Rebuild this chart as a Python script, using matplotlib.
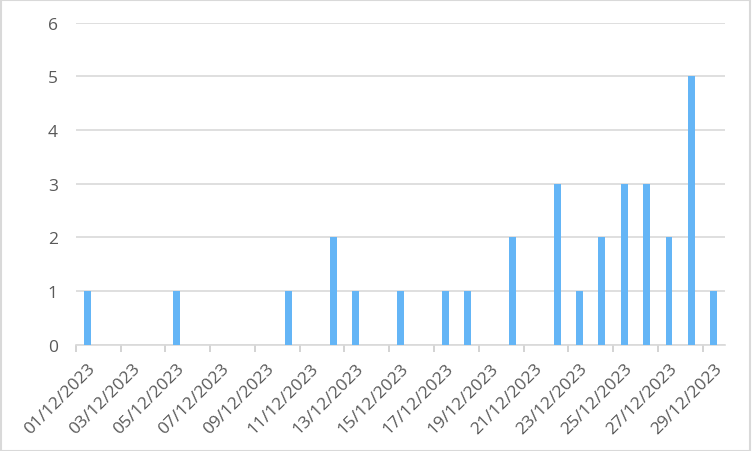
import matplotlib.pyplot as plt
import numpy as np
from matplotlib.patches import Rectangle
from matplotlib.transforms import ScaledTranslation

# daily counts, 01/12/2023 .. 29/12/2023
days = [f'{d:02d}/12/2023' for d in range(1, 30)]
counts = [1, 0, 0, 0, 1, 0, 0, 0, 0, 1,
          0, 2, 1, 0, 1, 0, 1, 1, 0, 2,
          0, 3, 1, 2, 3, 3, 2, 5, 1]

grid_col = '#d9d9d9'
text_col = '#595959'
plt.rcParams['font.family'] = ['Open Sans', 'DejaVu Sans']

fig = plt.figure(figsize=(7.52, 4.52), dpi=100)
ax = fig.add_axes([0.101, 0.2356, 0.863, 0.712])

x = np.arange(len(days))
ax.bar(x, counts, width=0.31, color='#64B5F6', zorder=3)

ax.set_xlim(-0.5, len(days) - 0.5)
ax.set_ylim(0, 6)
ax.set_yticks(range(0, 7))
ax.yaxis.grid(True, color=grid_col, linewidth=1.2, zorder=0)

# ticks on category boundaries every 2 days, labels on category centres
ax.set_xticks(np.arange(-0.5, len(days), 2))
ax.set_xticklabels([])
ax.set_xticks(x[::2], minor=True)
ax.set_xticklabels(days[::2], minor=True, rotation=45, ha='right',
                   rotation_mode='anchor', fontsize=12.5, color=text_col)
shift = ScaledTranslation(2 / 100, 0, fig.dpi_scale_trans)
for lab in ax.get_xticklabels(minor=True):
    lab.set_transform(lab.get_transform() + shift)
ax.tick_params(axis='x', which='major', length=5, color='#cccccc', width=1.2)
ax.tick_params(axis='x', which='minor', length=0, pad=11)
ax.tick_params(axis='y', length=0, pad=13, labelsize=12.5, labelcolor=text_col)

for s in ['top', 'right', 'left']:
    ax.spines[s].set_visible(False)
ax.spines['bottom'].set_color(grid_col)
ax.spines['bottom'].set_linewidth(1.2)

fig.patches.append(Rectangle((0.001, 0.001), 0.997, 0.996, transform=fig.transFigure,
                             fill=False, edgecolor=grid_col, linewidth=1.5))

plt.savefig('out.png', dpi=100)
